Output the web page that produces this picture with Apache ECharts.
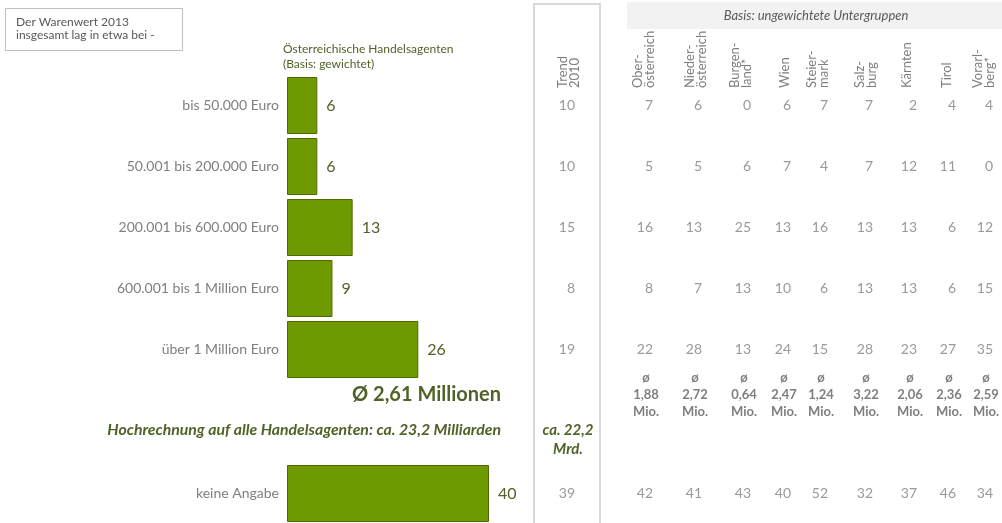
<!DOCTYPE html>
<html>
<head>
<meta charset="utf-8">
<script src="https://cdn.jsdelivr.net/npm/echarts@6/dist/echarts.min.js"></script>
<style>
  html, body { margin: 0; padding: 0; background: #fff; }
  #chart { width: 1002px; height: 523px; }
</style>
</head>
<body>
<div id="chart"></div>
<script>
// Werte aus der Grafik
var categories = ['bis 50.000 Euro', '50.001 bis 200.000 Euro', '200.001 bis 600.000 Euro', '600.001 bis 1 Million Euro', 'über 1 Million Euro'];
var values = [6, 6, 13, 9, 26];
var noAnswerLabel = ['keine Angabe'];
var noAnswerValue = [40];
var trend2010 = [10, 10, 15, 8, 19];
var trendNoAnswer = 39;
var regions = ['Ober-\nösterreich', 'Nieder-\nösterreich', 'Burgen-\nland*', 'Wien', 'Steier-\nmark', 'Salz-\nburg', 'Kärnten', 'Tirol', 'Vorarl-\nberg*'];
var regionValues = [
    [7, 6, 0, 6, 7, 7, 2, 4, 4],
    [5, 5, 6, 7, 4, 7, 12, 11, 0],
    [16, 13, 25, 13, 16, 13, 13, 6, 12],
    [8, 7, 13, 10, 6, 13, 13, 6, 15],
    [22, 28, 13, 24, 15, 28, 23, 27, 35]
];
var regionNoAnswer = [42, 41, 43, 40, 52, 32, 37, 46, 34];
var regionAvgMio = ['1,88', '2,72', '0,64', '2,47', '1,24', '3,22', '2,06', '2,36', '2,59'];
var avgTotal = 'Ø 2,61 Millionen';
var projection = 'Hochrechnung auf alle Handelsagenten: ca. 23,2 Milliarden';
var trendProjection = 'ca. 22,2\nMrd.';

// Spalten der Tabelle (rechte Kante der Zahlen), erste = Trend 2010
var colRight = [575, 653, 702, 751, 791, 828, 873, 917, 956, 993];
var headerX = [569, 644, 696, 741, 785, 818, 866, 907, 947, 984];

var green = '#4f6228';
var grey = '#7f7f7f';
var font = 'Lato, "Open Sans", sans-serif';

function tableData(rows) {
    var out = [];
    rows.forEach(function (row, i) {
        row.forEach(function (v, j) {
            out.push([colRight[j], i, v]);
        });
    });
    return out;
}

var topRows = regionValues.map(function (r, i) { return [trend2010[i]].concat(r); });
var bottomRows = [[trendNoAnswer].concat(regionNoAnswer)];

var graphics = [
    { type: 'rect', shape: { x: 5.5, y: 8.5, width: 177, height: 42 }, style: { fill: '#fff', stroke: '#bfbfbf', lineWidth: 1 } },
    { type: 'text', x: 16, y: 29, style: { text: 'Der Warenwert 2013\ninsgesamt lag in etwa bei -', font: '12px ' + font, fill: '#595959', lineHeight: 13, verticalAlign: 'middle' } },
    { type: 'text', x: 283, y: 57, style: { text: 'Österreichische Handelsagenten\n(Basis: gewichtet)', font: '12px ' + font, fill: green, lineHeight: 15, verticalAlign: 'middle' } },
    { type: 'rect', shape: { x: 534, y: 4, width: 66, height: 540 }, style: { fill: 'none', stroke: '#d9d9d9', lineWidth: 2 } },
    { type: 'rect', shape: { x: 627, y: 2, width: 375, height: 27 }, style: { fill: '#f2f2f2' } },
    { type: 'text', x: 816, y: 16, style: { text: 'Basis: ungewichtete Untergruppen', font: 'italic 13px ' + font, fill: '#595959', align: 'center', verticalAlign: 'middle' } },
    { type: 'text', x: 501, y: 395, style: { text: avgTotal, font: 'bold 20px ' + font, fill: green, align: 'right', verticalAlign: 'middle' } },
    { type: 'text', x: 501, y: 430, style: { text: projection, font: 'italic bold 15.8px ' + font, fill: green, align: 'right', verticalAlign: 'middle' } },
    { type: 'text', x: 568, y: 440, style: { text: trendProjection, font: 'italic bold 15px ' + font, fill: green, align: 'center', verticalAlign: 'middle', lineHeight: 19 } }
];
['Trend\n2010'].concat(regions).forEach(function (h, j) {
    graphics.push({ type: 'text', x: headerX[j], y: 88, rotation: Math.PI / 2, style: { text: h, font: '13px ' + font, fill: grey, align: 'left', verticalAlign: 'middle', lineHeight: 12 } });
});
regionAvgMio.forEach(function (v, j) {
    graphics.push({ type: 'text', x: colRight[j + 1] - 7, y: 395, style: { text: 'ø\n' + v + '\nMio.', font: 'bold 13px ' + font, fill: grey, align: 'center', verticalAlign: 'middle', lineHeight: 17 } });
});

var barStyle = { color: '#6f9900', borderColor: '#4f6a00', borderWidth: 1 };
var barLabel = { show: true, position: 'right', distance: 9, color: green, fontSize: 16, fontFamily: font };
var catLabel = { color: grey, fontSize: 14, fontFamily: font, margin: 8 };
var tableLabel = { show: true, position: 'left', distance: 0, color: grey, fontSize: 14, fontFamily: font, formatter: function (p) { return p.value[2]; } };

var myChart = echarts.init(document.getElementById('chart'));
var option = {
    animation: false,
    grid: [
        { left: 287, width: 505, top: 75, height: 305 },
        { left: 287, width: 505, top: 464, height: 61 },
        { left: 0, width: 1002, top: 75, height: 305 },
        { left: 0, width: 1002, top: 464, height: 61 }
    ],
    xAxis: [
        { gridIndex: 0, type: 'value', min: 0, max: 100, show: false },
        { gridIndex: 1, type: 'value', min: 0, max: 100, show: false },
        { gridIndex: 2, type: 'value', min: 0, max: 1002, show: false },
        { gridIndex: 3, type: 'value', min: 0, max: 1002, show: false }
    ],
    yAxis: [
        { gridIndex: 0, type: 'category', inverse: true, data: categories, axisLine: { show: false }, axisTick: { show: false }, axisLabel: catLabel },
        { gridIndex: 1, type: 'category', inverse: true, data: noAnswerLabel, axisLine: { show: false }, axisTick: { show: false }, axisLabel: catLabel },
        { gridIndex: 2, type: 'category', inverse: true, data: categories, show: false },
        { gridIndex: 3, type: 'category', inverse: true, data: noAnswerLabel, show: false }
    ],
    series: [
        { type: 'bar', xAxisIndex: 0, yAxisIndex: 0, data: values, barWidth: 57, itemStyle: barStyle, label: barLabel, silent: true },
        { type: 'bar', xAxisIndex: 1, yAxisIndex: 1, data: noAnswerValue, barWidth: 57, itemStyle: barStyle, label: barLabel, silent: true },
        { type: 'scatter', xAxisIndex: 2, yAxisIndex: 2, symbolSize: 0, data: tableData(topRows), label: tableLabel, silent: true },
        { type: 'scatter', xAxisIndex: 3, yAxisIndex: 3, symbolSize: 0, data: tableData(bottomRows), label: tableLabel, silent: true }
    ],
    graphic: graphics
};
myChart.setOption(option);
</script>
</body>
</html>
